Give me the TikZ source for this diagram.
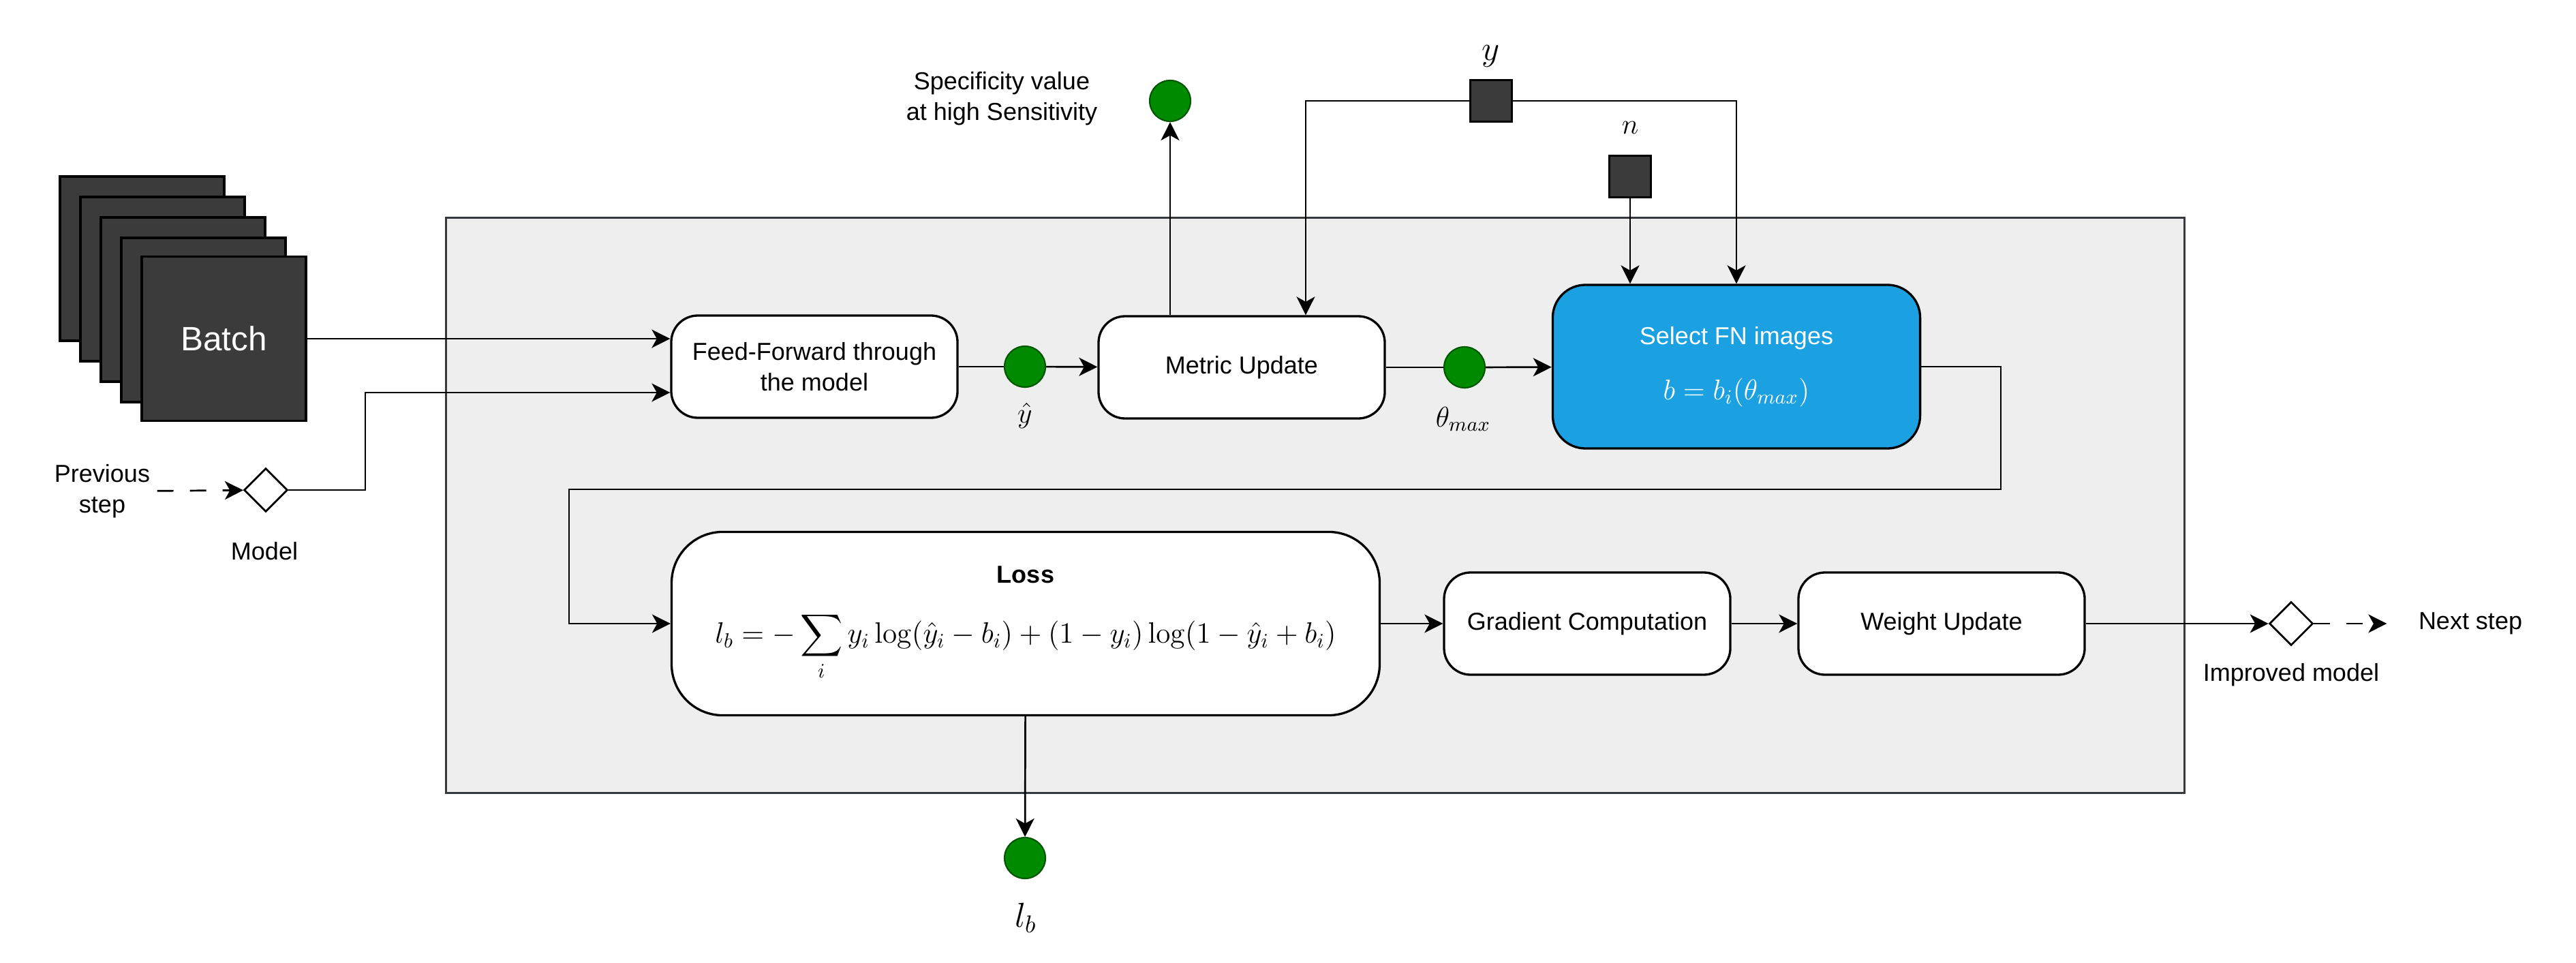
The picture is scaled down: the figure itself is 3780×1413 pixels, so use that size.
\RequirePackage{fix-cm}
\documentclass[tikz,border=0pt]{standalone}
\usepackage{amsmath}
\usepackage[no-math]{fontspec}
\setmainfont{Liberation Sans}
\usepackage{tikz}
\usetikzlibrary{shapes.geometric,arrows.meta,positioning}
\definecolor{dotgreen}{HTML}{008A00}
\definecolor{dotgreenline}{HTML}{005700}
\definecolor{fnblue}{HTML}{1BA1E2}
\definecolor{sheetgray}{HTML}{3B3B3B}
\definecolor{panelfill}{HTML}{EEEEEE}
\definecolor{panelline}{HTML}{36393D}
\tikzset{
  txt/.style={font=\fontsize{12}{15}\selectfont,align=center},
  procbox/.style={txt,draw=black,line width=1.1pt,fill=white,rounded corners=13pt,minimum width=140pt,minimum height=50pt,inner sep=2pt},
  sheet/.style={draw=black,line width=1.1pt,fill=sheetgray,minimum size=80.3pt,inner sep=0pt},
  outdot/.style={circle,draw=dotgreenline,line width=0.7pt,fill=dotgreen,minimum size=20pt,inner sep=0pt},
  insq/.style={draw=black,line width=1.1pt,fill=sheetgray,minimum size=20.3pt,inner sep=0pt},
  modelmark/.style={diamond,draw=black,line width=0.9pt,fill=white,minimum width=21.3pt,minimum height=21.3pt,inner sep=0pt},
  conn/.style={line width=0.9pt},
  flow/.style={conn,-{Stealth[length=9pt,width=9pt,inset=2.5pt]}},
  stepdash/.style={dash pattern=on 8pt off 8pt},
  symlbl/.style={font=\fontsize{14}{17}\selectfont},
  biglbl/.style={font=\fontsize{17}{20}\selectfont}
}
\begin{document}
\begin{tikzpicture}[x=0.3333pt,y=-0.3333pt]
  \def\gap{30}
  \useasboundingbox (0,0) rectangle (3780,1413);
  % training step panel
  \node[draw=panelline,line width=1pt,fill=panelfill,minimum width=850pt,minimum height=281pt,inner sep=0pt] (stage) at (1930,741.5) {};
  % batch of images
  \foreach \i in {0,...,3}
    \node[sheet] at (208.5+\i*\gap,379.5+\i*\gap) {};
  \node[sheet,text=white,font=\fontsize{16.5}{20}\selectfont] (batch) at (328.5,497) {Batch};
  \node[txt] (prev) at (150,721) {Previous\\step};
  \node[modelmark] (model) at (390,719) {};
  \node[txt] (modellbl) at (388,809) {Model};
  % first row
  \node[procbox] (ff) at (1195,538) {Feed-Forward through\\the model};
  \node[outdot] (yhat) at (1504,538) {};
  \node[symlbl] (yhatlbl) at (1504,610) {$\hat{y}$};
  \node[procbox] (mu) at (1822,539) {Metric Update};
  \node[outdot] (theta) at (2149,539) {};
  \node[symlbl] (thetalbl) at (2147,615) {$\theta_{max}$};
  \node[procbox,fill=fnblue,text=white,rounded corners=16pt,minimum width=179.7pt,minimum height=80pt] (select) at (2548,538)
    {Select FN images\\[12pt]{\fontsize{14}{17}\selectfont$b=b_i(\theta_{max})$}};
  % top inputs and outputs
  \node[outdot] (spec) at (1717,148) {};
  \node[txt] (speclbl) at (1470,145) {Specificity value\\at high Sensitivity};
  \node[insq] (ysq) at (2188,148) {};
  \node[biglbl] (ylbl) at (2188,82) {$y$};
  \node[insq] (nsq) at (2392,259) {};
  \node[symlbl] (nlbl) at (2392,187) {$n$};
  % second row
  \node[procbox,rounded corners=25pt,minimum width=346.3pt,minimum height=89.7pt] (loss) at (1505,915)
    {\textbf{Loss}\\[13pt]{\fontsize{14.4}{17}\selectfont$\displaystyle l_b=-\sum_i y_i\log(\hat{y}_i-b_i)+(1-y_i)\log(1-\hat{y}_i+b_i)$}};
  \node[outdot] (lb) at (1504,1259) {};
  \node[biglbl] (lblbl) at (1505,1347) {$l_b$};
  \node[procbox] (grad) at (2329,915) {Gradient Computation};
  \node[procbox] (weight) at (2849,915) {Weight Update};
  \node[modelmark] (better) at (3362,915) {};
  \node[txt] (betterlbl) at (3362,990) {Improved model};
  \node[txt] (next) at (3625,915) {Next step};
  \coordinate (mbend) at (536,576);
  \coordinate (ytap) at (1916,148);
  \coordinate (loopr) at (2936,718);
  \coordinate (loopl) at (835,718);

  \draw[flow,stepdash] (prev) -- (model);
  \draw[flow] (batch.east) -- (batch.east -| ff.west);
  \draw[flow] (model) -| (mbend) -- (mbend -| ff.west);
  \draw[conn] (ff) -- (yhat);
  \draw[flow] (yhat) -- (mu);
  \draw[conn] (mu) -- (theta);
  \draw[flow] (theta) -- (select);
  \draw[flow] (mu.north -| spec) -- (spec);
  \draw[flow] (ysq) -- (ytap) -- (ytap |- mu.north);
  \draw[flow] (ysq) -| (select.north);
  \draw[flow] (nsq) -- (nsq |- select.north);
  \draw[flow] (select.east) -| (loopr) -- (loopl) |- (loss.west);
  \draw[flow] (loss) -- (lb);
  \draw[flow] (loss) -- (grad);
  \draw[flow] (grad) -- (weight);
  \draw[flow] (weight) -- (better);
  \draw[flow,stepdash,shorten >=12pt] (better) -- (next);
\end{tikzpicture}
\end{document}
